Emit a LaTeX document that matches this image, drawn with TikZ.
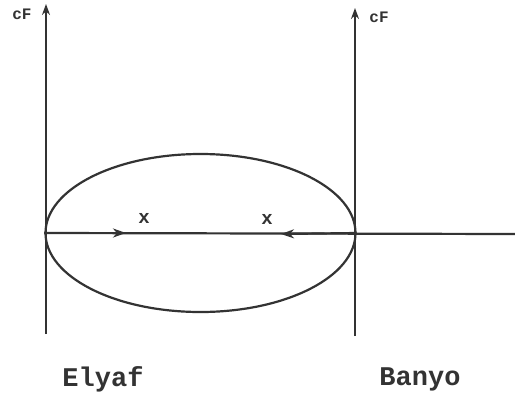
\documentclass[tikz,border=0pt]{standalone}
\usepackage{fontspec}
\setmonofont{Liberation Mono}
\usetikzlibrary{arrows.meta,positioning,shapes.geometric}
\begin{document}
\begin{tikzpicture}[x=1pt,y=-1pt,line width=2.2pt,draw=black!80,
  axis/.style={-{Stealth[length=11pt,width=8pt]}},
  flow/.style={-{Stealth[length=13pt,width=9pt,inset=4pt]}},
  lbl/.style={font=\ttfamily\bfseries\fontsize{27}{27}\selectfont,text=black!80},
  cf/.style={font=\ttfamily\bfseries\fontsize{16}{16}\selectfont,text=black!80,inner sep=0pt},
  xmark/.style={font=\ttfamily\bfseries\fontsize{19}{19}\selectfont,text=black!80,inner sep=0pt}]
\useasboundingbox (0,0) rectangle (515,400);
% axes
\coordinate (lbot) at (46,334);\coordinate (ltop) at (46,4);
\coordinate (rbot) at (355,336);\coordinate (rtop) at (355,8);
\draw[axis] (lbot) -- (ltop);
\draw[axis] (rbot) -- (rtop);
\node[cf] (cfl) at (22,14) {cF};
\node[cf] (cfr) at (379,17) {cF};
% ellipse and line
\node[draw,ellipse,minimum width=310,minimum height=158,inner sep=0pt] (drop) at (200.5,233) {};
\coordinate (rend) at (515,234);
\coordinate (tipa) at (126,233);
\coordinate (tipb) at (281,234);
\draw (drop.west) -- (rend);
\draw[flow] (drop.west) -- (tipa);
\draw[flow] (drop.east) -- (tipb);
\node[xmark] (xa) at (144,218) {x};
\node[xmark] (xb) at (267,219) {x};
\node[lbl] (fib) at (103,379) {Elyaf};
\node[lbl] (bath) at (420,379) {Banyo};
\end{tikzpicture}
\end{document}
